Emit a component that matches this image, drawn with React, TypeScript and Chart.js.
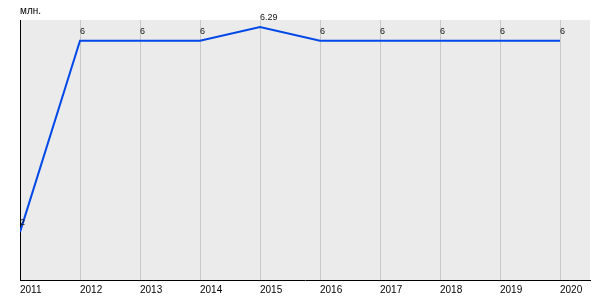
import React, { useEffect, useRef } from "react";
import { Chart, registerables } from "chart.js";

Chart.register(...registerables);

const years = [2011, 2012, 2013, 2014, 2015, 2016, 2017, 2018, 2019, 2020];
const values = [2, 6, 6, 6, 6.29, 6, 6, 6, 6, 6];
const valueLabels = ["2", "6", "6", "6", "6.29", "6", "6", "6", "6", "6"];
const unitLabel = "млн.";

const bgPlugin = {
  id: "bgPlugin",
  beforeDraw(chart: any) {
    const { ctx, chartArea } = chart;
    ctx.save();
    ctx.fillStyle = "#ebebeb";
    ctx.fillRect(chartArea.left, chartArea.top, chartArea.right - chartArea.left, chartArea.bottom - chartArea.top);
    ctx.restore();
  },
  afterDatasetsDraw(chart: any) {
    const { ctx, chartArea } = chart;
    const meta = chart.getDatasetMeta(0);
    ctx.save();
    ctx.font = "9px 'Liberation Sans', Arial, sans-serif";
    ctx.fillStyle = "#111";
    ctx.textAlign = "left";
    ctx.textBaseline = "bottom";
    meta.data.forEach((pt: any, i: number) => {
      ctx.fillText(valueLabels[i], pt.x, pt.y - 5);
    });
    ctx.font = "10px 'Liberation Sans', Arial, sans-serif";
    ctx.fillStyle = "#000";
    ctx.textBaseline = "bottom";
    ctx.fillText(unitLabel, chartArea.left, 16);
    ctx.restore();
  },
};

export default function App() {
  const ref = useRef<HTMLCanvasElement>(null);
  useEffect(() => {
    if (!ref.current) return;
    const chart = new Chart(ref.current, {
      type: "line",
      data: {
        datasets: [
          {
            data: years.map((y, i) => ({ x: y, y: values[i] })),
            borderColor: "#0048e8",
            borderWidth: 2,
            pointRadius: 0,
            tension: 0,
            fill: false,
          },
        ],
      },
      options: {
        animation: false,
        responsive: false,
        maintainAspectRatio: false,
        layout: { padding: { left: 0, right: 10, top: 20, bottom: 0 } },
        plugins: { legend: { display: false }, tooltip: { enabled: false } },
        scales: {
          x: {
            type: "linear",
            min: 2011,
            max: 2020.5,
            afterBuildTicks: (scale: any) => {
              scale.ticks = years.map((y) => ({ value: y }));
            },
            afterFit: (scale: any) => {
              scale.height = 20;
            },
            ticks: {
              stepSize: 1,
              align: "start",
              padding: 4,
              maxRotation: 0,
              autoSkip: false,
              color: "#000",
              font: { size: 10, family: "'Liberation Sans', Arial, sans-serif" },
              callback: (v: any) => String(v),
            },
            grid: { color: "#c8c8c8", drawTicks: false, lineWidth: 1 },
            border: { display: true, color: "#000", width: 1 },
          },
          y: {
            min: 1,
            max: 6.435,
            afterFit: (scale: any) => {
              scale.width = 20;
            },
            ticks: { display: false },
            grid: { display: false, drawTicks: false },
            border: { display: true, color: "#000", width: 1 },
          },
        },
      },
      plugins: [bgPlugin],
    });
    return () => chart.destroy();
  }, []);
  return (
    <div style={{ position: "fixed", left: 0, top: 0, width: 600, height: 300 }}>
      <canvas ref={ref} width={600} height={300} style={{ width: 600, height: 300 }} />
    </div>
  );
}
